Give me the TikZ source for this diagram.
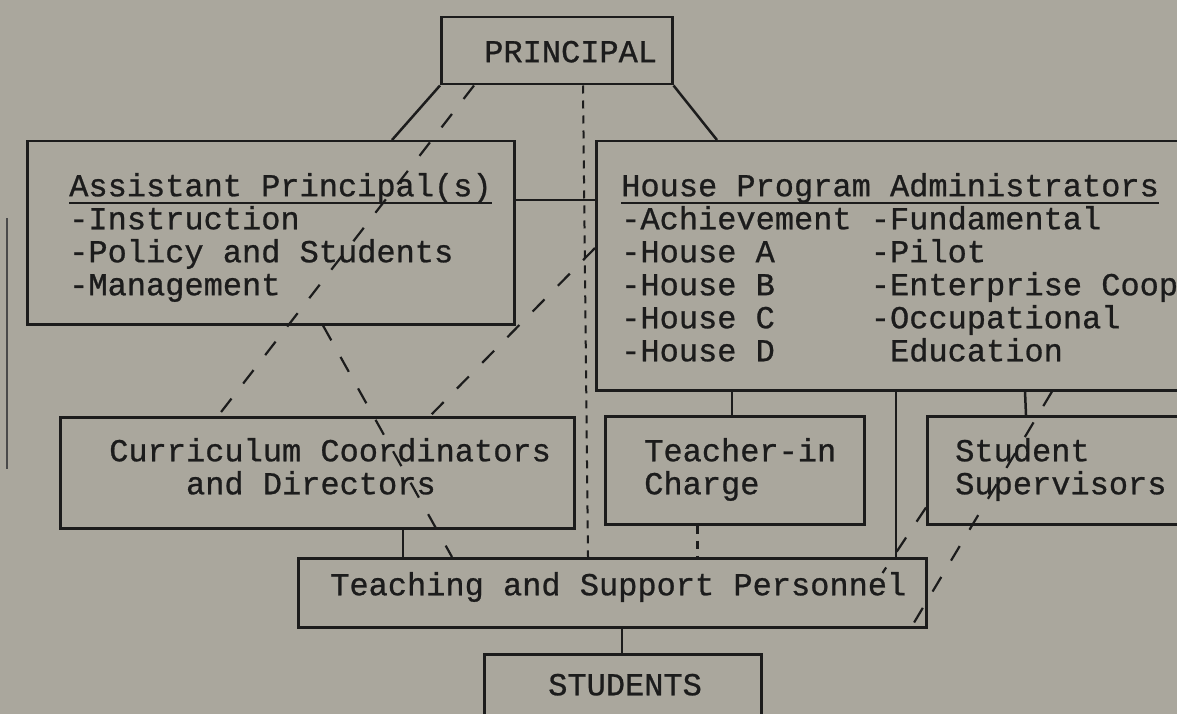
\documentclass[tikz,border=0pt]{standalone}
\usepackage{fontspec}
\newfontfamily\typewriter[FakeBold=0.8]{Liberation Mono}
\definecolor{paper}{RGB}{170,167,157}
\definecolor{ink}{RGB}{28,28,28}
% one typewriter character cell
\newlength\charw
\setlength\charw{19.2pt}
\newcommand{\typeface}{\typewriter\fontsize{32}{33}\selectfont\XeTeXinterwordspaceshaping=2 }
% n blank character cells
\newcommand{\blank}[1]{\hspace*{#1\charw}}
% underlined heading inside a box
\newcommand{\headline}[1]{\mbox{\setbox0=\hbox{#1}\rlap{\rule[-8pt]{\wd0}{2.4pt}}\box0}}
% struts that set the first line height and last line depth
\newcommand{\hgap}[1]{\rule{0pt}{#1pt}}
\newcommand{\dgap}[1]{\rule[-#1pt]{0pt}{#1pt}}

\begin{document}
\begin{tikzpicture}[
                x=1pt, y=-1pt,
                line width=2.5pt,
                font=\typeface,
                box/.style={draw=ink, text=ink, align=left, anchor=north west, inner ysep=0pt},
                link/.style={draw=ink},
                dashlink/.style={draw=ink, line width=2.2pt, dash pattern=on 17pt off 19pt},
                tick/.style={draw=ink, line width=2pt, dash pattern=on 8pt off 7pt}
            ]
            % paper
            \fill[paper] (0,0) rectangle (1177,714);
            \useasboundingbox (0,0) rectangle (1177,714);

            % boxes
            \node[box, text width=145pt, inner xsep=43pt, minimum height=67pt] (prin) at (440,16)
                {\mbox{\hgap{30}PRINCIPAL\dgap{7}}};
            \node[box, text width=403pt, inner xsep=42pt, minimum height=183pt] (ap) at (26,140)
                {\hgap{36}\headline{Assistant\blank1Principal(s)}\\-Instruction\\-Policy\blank1and\blank1Students\\-Management\dgap{10}};
            \node[box, text width=600pt, inner xsep=25pt, minimum height=249pt] (hpa) at (595,140)
                {\hgap{36}\headline{House\blank1Program\blank1Administrators}\\
                 -Achievement\blank1-Fundamental\\
                 -House\blank1A\blank5-Pilot\\
                 -House\blank1B\blank5-Enterprise\blank1Coop\\
                 -House\blank1C\blank5-Occupational\\
                 -House\blank1D\blank6Education\dgap{10}};
            \node[box, text width=416pt, inner xsep=49pt, minimum height=111pt] (cur) at (59,416)
                {\mbox{\hgap{26}Curriculum\blank1Coordinators}\\\mbox{\blank4and\blank1Directors\dgap{16}}};
            \node[box, text width=181pt, inner xsep=39pt, minimum height=108pt] (tic) at (604,415)
                {\mbox{\hgap{26}Teacher-in}\\Charge\dgap{11}};
            \node[box, text width=240pt, inner xsep=28pt, minimum height=108pt] (sup) at (926,415)
                {\hgap{26}Student\\Supervisors\dgap{11}};
            \node[box, text width=564pt, inner xsep=32pt, minimum height=69pt] (tsp) at (297,557)
                {\mbox{\hgap{26}Teaching\blank1and\blank1Support\blank1Personnel\dgap{21}}};
            \node[box, text width=149pt, inner xsep=64pt, minimum height=67pt] (stu) at (483,653)
                {\mbox{\hgap{26}STUDENTS\dgap{11}}};

            % solid lines of authority
            \draw[link] (prin.south west) -- ([xshift=366pt]ap.north west);
            \draw[link] (prin.south east) -- ([xshift=122pt]hpa.north west);
            \draw[link] ([yshift=-60pt]ap.north east) -- ([yshift=-60pt]hpa.north west);
            \draw[link] ([xshift=344pt]cur.south west) -- ([xshift=106pt]tsp.north west);
            \draw[link] ([xshift=137pt]hpa.south west) -- ([xshift=128pt]tic.north west);
            \draw[link] ([xshift=301pt]hpa.south west) -- ([xshift=599pt]tsp.north west);
            \draw[link] ([xshift=430pt]hpa.south west) -- ([xshift=100pt]sup.north west);
            \draw[link] ([xshift=325pt]tsp.south west) -- ([xshift=139pt]stu.north west);

            % dashed lines of coordination
            \draw[tick] ([xshift=143pt]prin.south west) -- ([xshift=291pt]tsp.north west);
            \draw[tick, line width=3pt] ([xshift=93pt]tic.south west) -- ([xshift=400pt]tsp.north west);
            \draw[dashlink] ([xshift=34pt]prin.south west) -- ([xshift=159pt]cur.north west);
            \draw[dashlink] ([yshift=-108pt]hpa.north west) -- ([xshift=371pt]cur.north west);
            \draw[dashlink] ([xshift=297pt]ap.south west) -- ([xshift=155pt]tsp.north west);
            \draw[dashlink] ([xshift=457pt]hpa.south west) -- ([xshift=-17pt]tsp.south east);
            \draw[dashlink] ([yshift=18pt]sup.south west) -- ([xshift=-45pt,yshift=-16pt]tsp.north east);

            % rule at the left margin
            \draw[ink!80, line width=2pt] (7,218) -- (7,469);
        \end{tikzpicture}
\end{document}
